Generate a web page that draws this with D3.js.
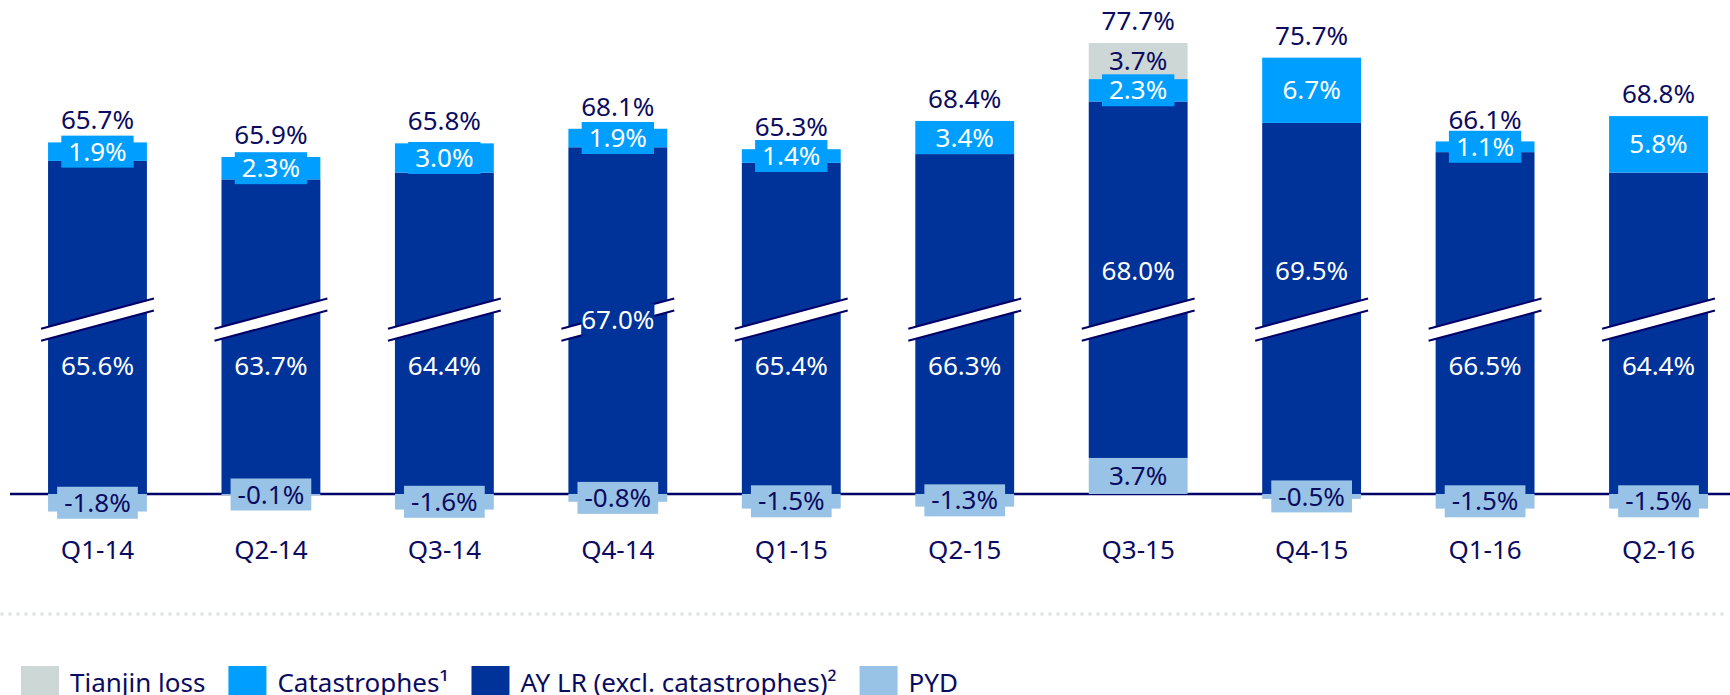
<!DOCTYPE html>
<html lang="en">
<head>
    <meta charset="UTF-8">
    <title>Loss ratio by quarter</title>
    <style>
        body {
            margin: 0;
            padding: 0;
            background-color: #fff;
            overflow: hidden;
        }
        svg text {
            font-family: 'Noto Sans', sans-serif;
            font-size: 26px;
        }
    </style>
    <script src="https://d3js.org/d3.v7.min.js"></script>
</head>
<body>
<div id="chart"></div>
<script>
    // data (in %)
    const quarters = ["Q1-14", "Q2-14", "Q3-14", "Q4-14", "Q1-15", "Q2-15", "Q3-15", "Q4-15", "Q1-16", "Q2-16"];
    const ayLR = [65.6, 63.7, 64.4, 67.0, 65.4, 66.3, 68.0, 69.5, 66.5, 64.4];
    const catastrophes = [1.9, 2.3, 3.0, 1.9, 1.4, 3.4, 2.3, 6.7, 1.1, 5.8];
    const pyd = [-1.8, -0.1, -1.6, -0.8, -1.5, -1.3, 3.7, -0.5, -1.5, -1.5];
    const tianjin = [0, 0, 0, 0, 0, 0, 3.7, 0, 0, 0];
    const totals = [65.7, 65.9, 65.8, 68.1, 65.3, 68.4, 77.7, 75.7, 66.1, 68.8];
    // where the AY LR label sits relative to the axis break
    const ayLabelSide = ["below", "below", "below", "on", "below", "below", "above", "above", "below", "below"];
    const legendItems = ["Tianjin loss", "Catastrophes¹", "AY LR (excl. catastrophes)²", "PYD"];

    const width = 1730, height = 695;
    const navy = "#0b0b5f";
    const colors = {
        tianjin: "#cdd7d6",
        cat: "#009fff",
        ay: "#003399",
        pyd: "#99c3e6"
    };
    const textColors = { tianjin: navy, cat: "#fff", ay: "#fff", pyd: navy };

    const svg = d3.select("#chart").append("svg")
        .attr("width", width)
        .attr("height", height);

    const x = d3.scaleBand()
        .domain(quarters)
        .range([0, 1756])
        .paddingInner(0.43)
        .paddingOuter(0.277);

    // broken y axis: values between brkLo and brkLo + gap are cut out
    const baseY = 494, pxPer = 9.74;
    const brkLo = 17.9, gap = 31.4;
    const y = d3.scaleLinear()
        .domain([-5, brkLo, brkLo + gap, 90])
        .range([baseY + 5 * pxPer, baseY - brkLo * pxPer, baseY - brkLo * pxPer, baseY - (90 - gap) * pxPer]);

    // baseline
    svg.append("line")
        .attr("x1", 10).attr("x2", width)
        .attr("y1", y(0)).attr("y2", y(0))
        .attr("stroke", "#000066")
        .attr("stroke-width", 2.5);

    // dotted separator
    svg.append("line")
        .attr("x1", 2).attr("x2", width)
        .attr("y1", 614).attr("y2", 614)
        .attr("stroke", "#e3e6e6")
        .attr("stroke-width", 4)
        .attr("stroke-linecap", "round")
        .attr("stroke-dasharray", "0 8");

    // build stacked segments
    const segments = [];
    quarters.forEach((q, i) => {
        const p = pyd[i];
        segments.push({ q, key: "pyd", y0: 0, y1: p, v: p });
        const b = Math.max(p, 0);
        segments.push({ q, key: "ay", y0: b, y1: b + ayLR[i], v: ayLR[i], side: ayLabelSide[i] });
        const c0 = b + ayLR[i];
        segments.push({ q, key: "cat", y0: c0, y1: c0 + catastrophes[i], v: catastrophes[i] });
        if (tianjin[i] > 0) {
            const t0 = c0 + catastrophes[i];
            segments.push({ q, key: "tianjin", y0: t0, y1: t0 + tianjin[i], v: tianjin[i] });
        }
    });

    const bw = x.bandwidth();

    svg.append("g").selectAll("rect")
        .data(segments)
        .join("rect")
        .attr("x", d => x(d.q))
        .attr("width", bw)
        .attr("y", d => Math.min(y(d.y0), y(d.y1)))
        .attr("height", d => Math.abs(y(d.y0) - y(d.y1)))
        .attr("fill", d => colors[d.key]);

    // axis break marks
    const yb = y(brkLo);
    const slope = -30 / 112, half = 6, ext = 7;
    const breaks = svg.append("g");
    quarters.forEach(q => {
        const cx = x(q) + bw / 2;
        const xl = x(q) - ext, xr = x(q) + bw + ext;
        const yl = yb + slope * (xl - cx), yr = yb + slope * (xr - cx);
        breaks.append("path")
            .attr("d", `M${xl},${yl - half}L${xr},${yr - half}L${xr},${yr + half}L${xl},${yl + half}Z`)
            .attr("fill", "#fff");
        [-half, half].forEach(o => {
            breaks.append("line")
                .attr("x1", xl).attr("y1", yl + o)
                .attr("x2", xr).attr("y2", yr + o)
                .attr("stroke", "#000066")
                .attr("stroke-width", 2);
        });
    });

    // segment labels
    const fmt = v => v.toFixed(1) + "%";
    const labels = svg.append("g");
    const boxH = 32;

    segments.forEach(d => {
        const cx = x(d.q) + bw / 2;
        let cy;
        if (d.key === "ay") {
            if (d.side === "on") cy = yb;
            else if (d.side === "above") cy = yb - 49;
            else cy = yb + 46;
        } else {
            cy = (y(d.y0) + y(d.y1)) / 2;
        }
        const t = labels.append("text")
            .attr("x", cx)
            .attr("y", cy)
            .attr("dy", "0.35em")
            .attr("text-anchor", "middle")
            .attr("fill", textColors[d.key])
            .text(fmt(d.v));
        const segH = Math.abs(y(d.y0) - y(d.y1));
        const needBox = (d.key !== "ay" && segH < boxH) || d.side === "on";
        if (needBox) {
            const w = t.node().getComputedTextLength() + (d.side === "on" ? 0 : 14);
            labels.insert("rect", function () { return t.node(); })
                .attr("x", cx - w / 2)
                .attr("y", cy - boxH / 2)
                .attr("width", w)
                .attr("height", boxH)
                .attr("fill", colors[d.key]);
        }
    });

    // totals above bars
    svg.append("g").selectAll("text")
        .data(quarters)
        .join("text")
        .attr("x", q => x(q) + bw / 2)
        .attr("y", (q, i) => y(Math.max(pyd[i], 0) + ayLR[i] + catastrophes[i] + tianjin[i]) - 22)
        .attr("dy", "0.35em")
        .attr("text-anchor", "middle")
        .attr("fill", navy)
        .text((q, i) => fmt(totals[i]));

    // category axis
    const xAxis = svg.append("g")
        .attr("transform", "translate(0,550)")
        .call(d3.axisBottom(x).tickSize(0).tickPadding(0));
    xAxis.select(".domain").remove();
    xAxis.selectAll("text")
        .attr("y", 0)
        .attr("dy", "0.35em")
        .attr("fill", navy)
        .style("font-family", "'Noto Sans', sans-serif")
        .style("font-size", "26px");

    // legend
    const legendKeys = ["tianjin", "cat", "ay", "pyd"];
    const legend = svg.append("g");
    let lx = 21;
    legendItems.forEach((name, i) => {
        legend.append("rect")
            .attr("x", lx).attr("y", 666)
            .attr("width", 38).attr("height", 38)
            .attr("fill", colors[legendKeys[i]]);
        const t = legend.append("text")
            .attr("x", lx + 49)
            .attr("y", 692)
            .attr("fill", navy)
            .text(name);
        lx += 49 + t.node().getComputedTextLength() + 23;
    });
</script>
</body>
</html>
